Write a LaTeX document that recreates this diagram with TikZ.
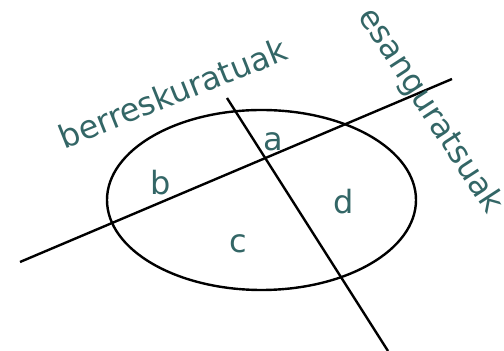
\documentclass[tikz,border=0pt]{standalone}
\usepackage{fontspec}
\setmainfont{DejaVu Sans}
\usetikzlibrary{shapes.geometric}
\definecolor{labelteal}{RGB}{51,102,102}
\begin{document}
\begin{tikzpicture}[x=0.5pt, y=-0.5pt, line width=1.2pt, every node/.style={font=\fontsize{16}{19}\selectfont, text=labelteal}]
				\useasboundingbox (0,0) rectangle (504,351);
				\node[draw=black, ellipse, inner sep=0pt, minimum width=154.5pt, minimum height=90pt] (set) at (261.5,200) {};
				\coordinate (retA) at (20,262);
				\coordinate (retB) at (452,79);
				\coordinate (relA) at (227,98);
				\coordinate (relB) at (388,351);
				\draw (retA) -- (retB);
				\draw (relA) -- (relB);
				\node[rotate=21.8, anchor=base] (retrieved) at (177,104) {berreskuratuak};
				\node[rotate=-57] (relevant) at (430,111) {esanguratsuak};
				\node (a) at (273,142) {a};
				\node (b) at (161,183) {b};
				\node (c) at (238,244) {c};
				\node (d) at (344,202) {d};
			\end{tikzpicture}
\end{document}
